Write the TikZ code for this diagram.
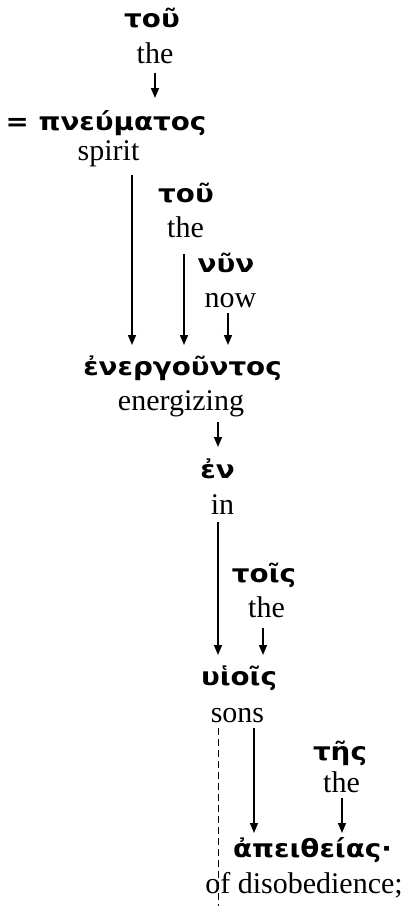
\documentclass[tikz,border=0pt]{standalone}
\usepackage{fontspec}
\setmainfont{Liberation Serif}
\newfontfamily\grk{DejaVu Sans}[FakeStretch=1.11]
\usetikzlibrary{arrows.meta,calc}
\begin{document}
\begin{tikzpicture}[x=1pt,y=-1pt,
  gr/.style={anchor=base, inner sep=0pt, font=\grk\bfseries\fontsize{25}{25}\selectfont},
  en/.style={anchor=base, inner sep=0pt, font=\fontsize{30}{30}\selectfont},
  arr/.style={-{Triangle[length=10pt,width=8pt]}, line width=1.5pt},
  dashline/.style={dash pattern=on 7pt off 4pt, line width=1pt}]
\useasboundingbox (0,0) rectangle (409,906);
% words
\node[gr] (tou1) at (152,27) {τοῦ};
\node[en] (the1) at (155,63) {the};
\node[gr] (pneu) at (106,130) {= πνεύματος};
\node[en] (spirit) at (108.5,160) {spirit};
\node[gr] (tou2) at (186,202) {τοῦ};
\node[en] (the2) at (185.5,237) {the};
\node[gr] (nun) at (226,272) {νῦν};
\node[en] (now) at (230.5,307) {now};
\node[gr] (ener) at (182.5,375) {ἐνεργοῦντος};
\node[en] (energ) at (181,410) {energizing};
\node[gr] (en) at (217.5,478) {ἐν};
\node[en] (in) at (222.5,514) {in};
\node[gr] (tois) at (264,582) {τοῖς};
\node[en] (the3) at (266.5,617) {the};
\node[gr] (huiois) at (239,685) {υἱοῖς};
\node[en] (sons) at (237.5,722) {sons};
\node[gr] (tes) at (340,760) {τῆς};
\node[en] (the4) at (341.5,792) {the};
\node[gr] (apeith) at (312.5,857) {ἀπειθείας·};
\node[en] (disob) at (304,893) {of disobedience;};
\coordinate (dashend) at (218,906);
% connectors
\draw[arr] ($(the1.base -| 155,0)+(0,10)$) -- ($(pneu.base -| 155,0)+(0,-32)$);
\draw[arr] ($(spirit.base -| 132,0)+(0,15)$) -- ($(ener.base -| 132,0)+(0,-30)$);
\draw[arr] ($(the2.base -| 184,0)+(0,17)$) -- ($(ener.base -| 184,0)+(0,-30)$);
\draw[arr] ($(now.base -| 228,0)+(0,6)$) -- ($(ener.base -| 228,0)+(0,-30)$);
\draw[arr] ($(energ.base -| 218,0)+(0,12)$) -- ($(en.base -| 218,0)+(0,-31)$);
\draw[arr] ($(in.base -| 218,0)+(0,8)$) -- ($(huiois.base -| 218,0)+(0,-30)$);
\draw[arr] ($(the3.base -| 263,0)+(0,11)$) -- ($(huiois.base -| 263,0)+(0,-30)$);
\draw[arr] ($(sons.base -| 254,0)+(0,6)$) -- ($(apeith.base -| 254,0)+(0,-24)$);
\draw[arr] ($(the4.base -| 342,0)+(0,6)$) -- ($(apeith.base -| 342,0)+(0,-24)$);
\draw[dashline] ($(sons.base -| dashend)+(0,6)$) -- (dashend);
\end{tikzpicture}
\end{document}
